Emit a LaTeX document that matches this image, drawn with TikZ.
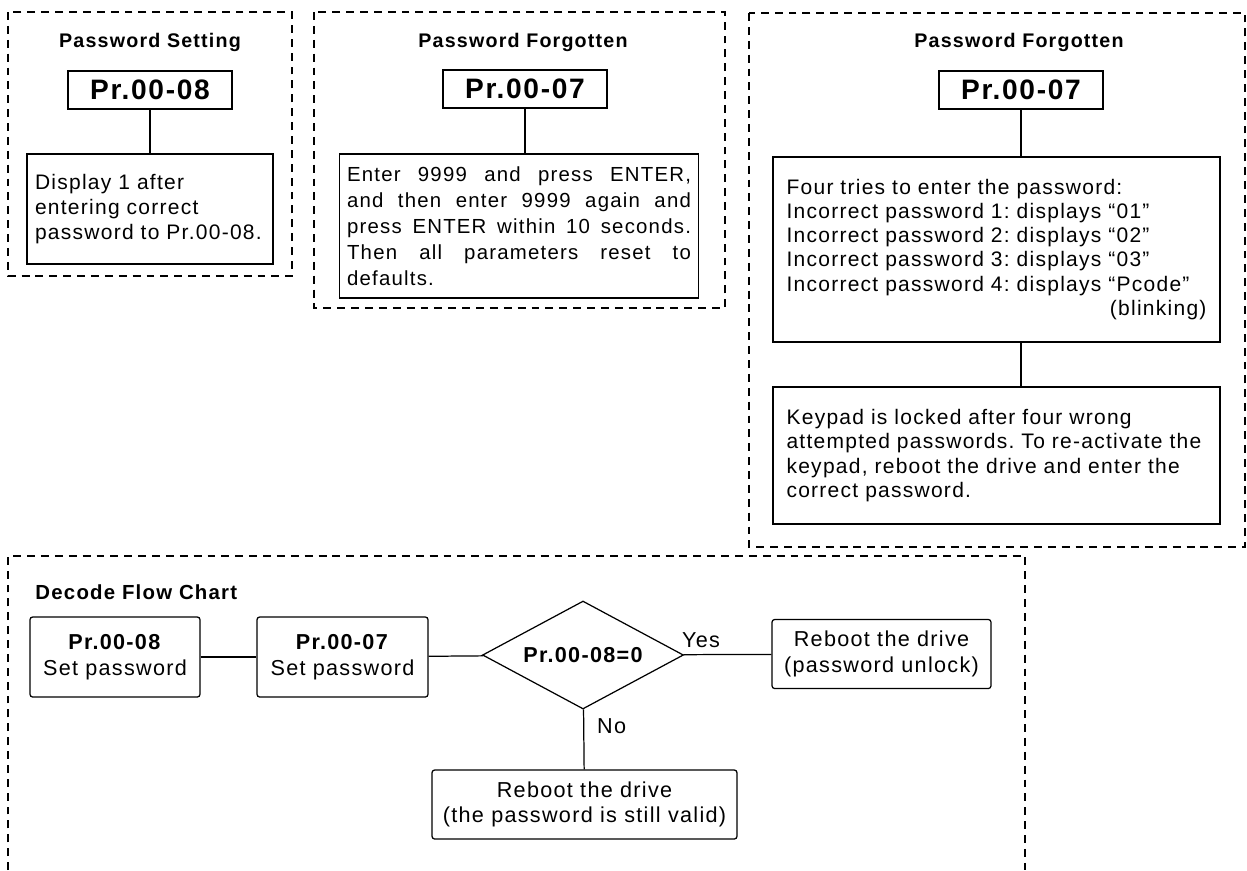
\documentclass[tikz,border=0pt]{standalone}
\usepackage{fontspec}
\setmainfont{Liberation Sans}[LetterSpace=6]
\usetikzlibrary{shapes.geometric,positioning}

\begin{document}
\frenchspacing
\begin{tikzpicture}[
  x=0.02cm, y=-0.02cm,
  line width=0.7pt,
  frame/.style={line width=0.6pt, dash pattern=on 4.5pt off 3.4pt},
  title/.style={font=\bfseries\fontsize{11.2}{13.4}\selectfont},
  head/.style={draw, inner sep=0pt, minimum width=3.28cm, minimum height=0.76cm,
    font=\bfseries\fontsize{16}{19}\selectfont},
  note/.style={draw, align=left, inner ysep=0pt, font=\fontsize{11.95}{13.7}\selectfont},
  pbox/.style={draw, rounded corners=1.5pt, align=center, inner sep=0pt,
    font=\fontsize{12.3}{14.5}\selectfont},
  query/.style={diamond, aspect=1.86, draw, inner sep=0pt, minimum width=4.02cm,
    minimum height=2.16cm, font=\bfseries\fontsize{12.3}{14}\selectfont},
]
\useasboundingbox (0,0) rectangle (1247,870);
% dashed panels
\draw[frame] (8,12) rectangle (292,276);
\draw[frame] (314,12) rectangle (725,308);
\draw[frame] (749,13) rectangle (1245,547);
\draw[frame] (8,870) -- (8,556) -- (1025,556) -- (1025,870);
% password setting
\node[title] (T1) at (150,42) {Password Setting};
\node[head] (H1) at (150,90) {Pr.00-08};
\node[note, text width=4.6cm, inner xsep=0.16cm, minimum height=2.2cm,
  font=\fontsize{11.95}{14.2}\selectfont] (N1) at (150,209)
  {Display 1 after\\entering correct\\password to Pr.00-08.};
\draw (H1) -- (N1);
% password forgotten, reset
\node[title] (T2) at (523,42) {Password Forgotten};
\node[head] (H2) at (525,89) {Pr.00-07};
\node[note, text width=6.88cm, inner xsep=0.15cm, minimum height=2.88cm,
  font=\fontsize{11.6}{14.8}\selectfont] (N2) at (519,226)
  {Enter\hfill 9999\hfill and\hfill press\hfill ENTER,\\
   and\hfill then\hfill enter\hfill 9999\hfill again\hfill and\\
   press\hfill ENTER\hfill within\hfill 10\hfill seconds.\\
   Then\hfill all\hfill parameters\hfill reset\hfill to\\
   defaults.};
\draw (H2.south) -- (H2.south |- N2.north);
% password forgotten, four tries
\node[title] (T3) at (1019,42) {Password Forgotten};
\node[head] (H3) at (1021,90) {Pr.00-07};
\node[note, text width=8.4cm, inner xsep=0.27cm, minimum height=3.7cm] (N3) at (996.5,249.5)
  {Four tries to enter the password:\\
   Incorrect password 1: displays “01”\\
   Incorrect password 2: displays “02”\\
   Incorrect password 3: displays “03”\\
   Incorrect password 4: displays “Pcode”\\
   \hfill(blinking)};
\node[note, text width=8.4cm, inner xsep=0.27cm, minimum height=2.74cm,
  font=\fontsize{11.95}{13.9}\selectfont] (N4) at (996.5,455.5)
  {Keypad is locked after four wrong\\
   attempted passwords. To re-activate the\\
   keypad, reboot the drive and enter the\\
   correct password.};
\draw (H3.south) -- (H3.south |- N3.north);
\draw (N3.south -| H3.south) -- (N4.north -| H3.south);
% decode flow chart
\node[title, anchor=west, font=\bfseries\fontsize{11.6}{13.9}\selectfont] (T4) at (29,592)
  {Decode Flow Chart};
\node[pbox, minimum width=3.4cm, minimum height=1.6cm] (DA) at (115,657)
  {\textbf{Pr.00-08}\\Set password};
\node[pbox, minimum width=3.42cm, minimum height=1.6cm] (DB) at (342.5,657)
  {\textbf{Pr.00-07}\\Set password};
\node[query] (DQ) at (583,655) {Pr.00-08=0};
\node[pbox, minimum width=4.38cm, minimum height=1.38cm] (DC) at (881.5,654)
  {Reboot the drive\\(password unlock)};
\node[pbox, minimum width=6.1cm, minimum height=1.38cm] (DD) at (584.5,804.5)
  {Reboot the drive\\(the password is still valid)};
\draw (DA) -- (DB);
\draw (DB) -- (DQ);
\draw (DQ) -- node[pos=0.2, above, font=\fontsize{12.3}{14}\selectfont] (yes) {Yes} (DC);
\draw (DQ) -- node[pos=0.28, right=4pt, font=\fontsize{12.3}{14}\selectfont] (no) {No} (DD);
\end{tikzpicture}
\end{document}
